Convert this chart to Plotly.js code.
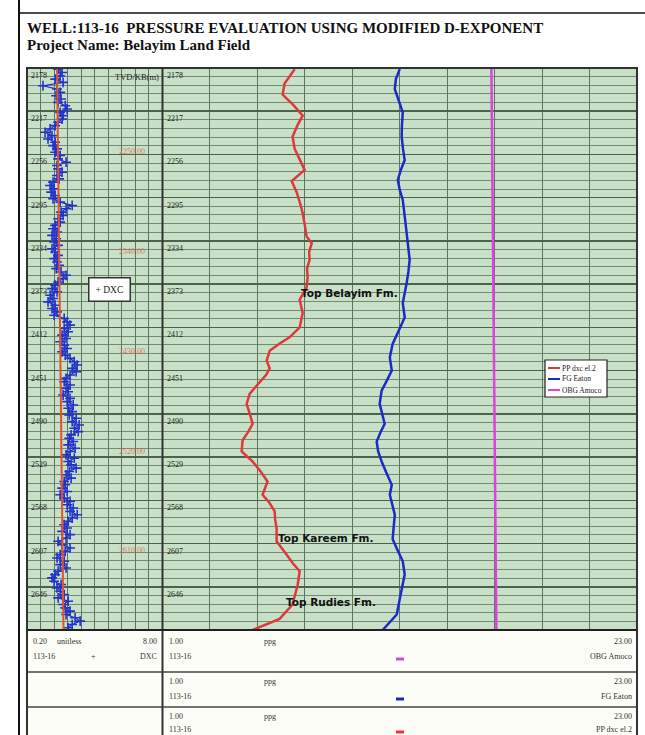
<!DOCTYPE html>
<html><head><meta charset="utf-8">
<script src="https://cdn.plot.ly/plotly-3.0.1.min.js"></script>
<style>html,body{margin:0;padding:0;background:#fff}#chart{width:645px;height:735px}</style>
</head><body><div id="chart"></div>
<script>
// ---- data ----
const depthTicks = [2178,2217,2256,2295,2334,2373,2412,2451,2490,2529,2568,2607,2646];
const dxcDepth = [2179,2182,2185,2188,2191,2194,2197,2200,2203,2206,2209,2212,2215,2218,2221,2224,2227,2230,2233,2236,2239,2242,2245,2248,2251,2254,2257,2260,2263,2266,2269,2272,2275,2278,2281,2284,2287,2290,2293,2296,2299,2302,2305,2308,2311,2314,2317,2320,2323,2326,2329,2332,2335,2338,2341,2344,2347,2350,2353,2356,2359,2362,2365,2368,2371,2374,2377,2380,2383,2386,2389,2392,2395,2398,2401,2404,2407,2410,2413,2416,2419,2422,2425,2428,2431,2434,2437,2440,2443,2446,2449,2452,2455,2458,2461,2464,2467,2470,2473,2476,2479,2482,2485,2488,2491,2494,2497,2500,2503,2506,2509,2512,2515,2518,2521,2524,2527,2530,2533,2536,2539,2542,2545,2548,2551,2554,2557,2560,2563,2566,2569,2572,2575,2578,2581,2584,2587,2590,2593,2596,2599,2602,2605,2608,2611,2614,2617,2620,2623,2626,2629,2632,2635,2638,2641,2644,2647,2650,2653,2656,2659,2662,2665,2668,2671,2674,2677,2680,2683];
const dxcValue = [1.99,2.22,2.11,1.82,2.28,1.12,1.93,2.11,1.88,2.16,1.99,2.40,2.51,2.11,2.28,2.22,1.99,1.82,1.53,1.24,1.64,1.41,1.82,1.70,1.93,1.82,2.11,1.99,2.45,1.93,
1.99,2.22,1.93,2.05,1.70,1.53,1.76,1.59,1.82,1.70,2.11,2.80,2.45,2.16,2.28,1.99,2.11,1.82,1.70,1.93,1.64,1.88,1.76,1.99,1.64,1.82,1.99,1.76,1.93,
2.05,1.88,2.16,2.45,2.28,1.99,1.82,1.64,1.93,1.53,1.70,1.41,1.82,1.64,1.93,1.76,2.34,2.51,2.68,2.34,2.57,2.22,2.45,2.11,2.34,2.51,2.22,2.40,2.68,2.92,3.09,2.80,3.03,2.68,2.45,
2.34,2.68,2.45,2.57,2.28,2.68,2.51,2.86,2.57,2.80,2.63,3.03,2.80,3.20,2.92,3.15,2.74,2.63,2.86,2.57,2.97,2.68,2.45,2.92,2.57,2.74,3.03,2.63,2.45,2.74,2.34,
2.40,2.22,2.51,2.11,2.34,2.68,2.51,2.86,2.68,3.09,2.80,2.57,2.34,2.51,2.22,2.68,2.45,1.99,2.22,2.68,2.40,2.11,1.93,2.34,2.11,2.45,1.99,1.82,1.64,
1.76,2.16,1.93,2.11,2.34,1.99,2.57,2.28,2.40,2.68,2.45,2.97,3.26,2.80,2.57];
const trendDepth = [2178, 2685];
const trendValue = [1.93, 2.30];
const trendLabels = ["2250.00","2340.00","2430.00","2520.00","2610.00"];
const trendLabelDepth = [2250, 2340, 2430, 2520, 2610];

const ppDepth = [2179,2192,2202,2211,2221,2230,2240,2251,2260,2270,2280,2290,2300,2309,2320,2330,2336,2344,2351,2359,2367,2376,2387,2399,2412,2421,2427,2433,2442,2449,2455,2460,2466,2472,2481,2490,2499,2507,2514,2524,2533,2542,2551,2563,2570,2578,2585,2593,2605,2617,2625,2632,2644,2653,2662,2675,2685];
const ppValue = [7.13,6.66,6.57,7.05,7.50,7.25,7.03,7.13,7.35,7.59,6.99,7.22,7.38,7.50,7.60,7.68,7.92,7.80,7.82,7.70,7.73,7.68,7.36,7.50,7.36,6.89,6.40,5.97,5.83,5.97,5.80,5.59,5.30,5.04,4.90,5.05,5.18,4.95,4.71,4.67,5.18,5.55,5.87,5.64,5.95,6.20,6.22,6.29,6.29,6.75,7.05,7.36,7.27,7.15,7.03,6.43,5.18];
const fgDepth = [2179,2188,2197,2208,2218,2230,2240,2251,2261,2270,2279,2288,2297,2315,2333,2351,2362,2372,2390,2403,2415,2427,2439,2451,2460,2469,2481,2490,2499,2507,2515,2524,2533,2544,2554,2563,2572,2581,2592,2603,2613,2623,2635,2646,2657,2671,2685];
const fgValue = [12.00,11.82,11.77,11.95,12.14,12.10,12.09,12.15,12.23,12.05,11.91,12.00,12.14,12.25,12.37,12.46,12.40,12.32,12.14,12.23,11.95,11.67,11.54,11.63,11.40,11.16,11.07,11.18,11.30,11.10,10.93,11.00,11.16,11.40,11.63,11.54,11.65,11.77,11.72,11.67,11.90,12.14,12.23,12.10,12.00,11.86,11.21];
const obgDepth = [2178, 2300, 2450, 2685];
const obgValue = [16.25, 16.30, 16.38, 16.48];

const formationNames = ["Top Belayim Fm.", "Top Kareem Fm.", "Top Rudies Fm."];
const formationDepth = [2381, 2602, 2660];
const formationX = [9.68, 8.56, 8.80];

const curveNames = ["PP dxc el.2", "FG Eaton", "OBG Amoco"];
const curveColors = ["#e0383a", "#1a2bc8", "#e040e0"];
const headerOrder = [2, 1, 0]; // header panels list OBG, FG, PP from top
const headerTextY = [[641, 656], [681, 696], [716, 729]];
const rowTops = [630, 672, 707];

// ---- layout helpers (pixel -> paper) ----
const W = 645, H = 735, ML = 27, MR = 8, MT = 68, MB = 105;
const PW = W - ML - MR, PH = H - MT - MB;
const px = x => (x - ML) / PW;
const py = y => (H - MB - y) / PH;
const split = px(162.5);

const serif = "Liberation Serif, Times New Roman, serif";
const gridCol = "#5d775d";
const minorCol = "#728b72";

const traces = [
  {x: dxcValue, y: dxcDepth, xaxis: "x", yaxis: "y", mode: "lines+markers", name: "DXC",
   line: {color: "#2233cc", width: 1.2},
   marker: {symbol: "cross-thin", size: 7, line: {color: "#2233cc", width: 1.6}}},
  {x: trendValue, y: trendDepth, xaxis: "x", yaxis: "y", mode: "lines", name: "trend",
   line: {color: "#e8502a", width: 2}},
  {x: ppValue, y: ppDepth, xaxis: "x2", yaxis: "y", mode: "lines", name: curveNames[0],
   line: {color: curveColors[0], width: 2.5}},
  {x: fgValue, y: fgDepth, xaxis: "x2", yaxis: "y", mode: "lines", name: curveNames[1],
   line: {color: curveColors[1], width: 2.5}},
  {x: obgValue, y: obgDepth, xaxis: "x2", yaxis: "y", mode: "lines", name: curveNames[2],
   line: {color: curveColors[2], width: 2.5}}
];

const annotations = [];
const shapes = [];
const txt = (text, x, y, anchor, size, color, extra) => Object.assign({
  xref: "paper", yref: "paper", x: px(x), y: py(y), xanchor: anchor, yanchor: "middle", showarrow: false,
  text: text, font: {family: serif, size: size || 8, color: color || "#333"}}, extra || {});

// Titles
annotations.push(txt("<b>WELL:113-16  PRESSURE EVALUATION USING MODIFIED D-EXPONENT</b>", 25, 28, "left", 15, "#111"));
annotations.push(txt("<b>Project Name: Belayim Land Field</b>", 25, 45, "left", 15, "#111"));

// depth labels in both tracks
depthTicks.forEach(d => {
  [29, 165].forEach(xx => {
    annotations.push({xref: "paper", yref: "y", x: px(xx), y: d, xanchor: "left", yanchor: "top", yshift: -1, showarrow: false,
      text: String(d), font: {family: serif, size: 8, color: "#222"}});
  });
});
annotations.push(txt("TVD/KB(m)", 161, 77, "right", 8.5, "#222"));

// trend labels
trendLabels.forEach((t, i) => {
  annotations.push({xref: "paper", yref: "y", x: px(132), y: trendLabelDepth[i], xanchor: "center", yanchor: "middle", yshift: -4,
    showarrow: false, text: t, font: {family: serif, size: 8, color: "rgba(225,90,70,0.8)"}});
});

// DXC legend box
annotations.push(txt("+ DXC", 109, 289, "center", 9.5, "#222", {bgcolor: "#ffffff", bordercolor: "#333", borderwidth: 1.5, borderpad: 6}));

// formation tops
formationNames.forEach((n, i) => {
  annotations.push({xref: "x2", yref: "y", x: formationX[i], y: formationDepth[i], xanchor: "center", yanchor: "middle",
    showarrow: false, text: "<b>" + n + "</b>", font: {family: "DejaVu Sans, sans-serif", size: 10.5, color: "#111"}});
});

// curve legend (right track)
shapes.push({type: "rect", xref: "paper", yref: "paper", x0: px(545), x1: px(607), y0: py(397), y1: py(360),
  fillcolor: "#ffffff", line: {color: "#222", width: 1.2}});
curveNames.forEach((n, i) => {
  const yy = 368 + i * 11;
  shapes.push({type: "line", xref: "paper", yref: "paper", x0: px(548), x1: px(560), y0: py(yy), y1: py(yy), line: {color: curveColors[i], width: 2}});
  annotations.push(txt(n, 560, yy, "left", 7.5, "#222"));
});

// header panels
shapes.push({type: "rect", xref: "paper", yref: "paper", x0: 0, x1: 1, y0: py(760), y1: 0, fillcolor: "#fdfdf8", line: {width: 0}, layer: "below"});
headerOrder.forEach((ci, i) => {
  const [y1, y2] = headerTextY[i];
  annotations.push(txt("1.00", 167, y1, "left"));
  annotations.push(txt("ppg", 262, y1, "left"));
  annotations.push(txt("23.00", 634, y1, "right"));
  annotations.push(txt("113-16", 167, y2, "left"));
  annotations.push(txt(curveNames[ci], 634, y2, "right"));
  shapes.push({type: "line", xref: "paper", yref: "paper", x0: px(396), x1: px(404), y0: py(y2 + 3), y1: py(y2 + 3), line: {color: curveColors[ci], width: 3}});
  if (i > 0) shapes.push({type: "line", xref: "paper", yref: "paper", x0: 0, x1: 1, y0: py(rowTops[i]), y1: py(rowTops[i]), line: {color: "#444", width: 1.5}});
});
// left header
[["0.20", 31, "left", 641], ["unitless", 55, "left", 641], ["8.00", 159, "right", 641],
 ["113-16", 31, "left", 656], ["+", 93, "center", 656], ["DXC", 159, "right", 656]].forEach(a => {
  annotations.push(txt(a[0], a[1], a[3], a[2]));
});

// frames
shapes.push({type: "rect", xref: "paper", yref: "paper", x0: 0, x1: 1, y0: py(760), y1: 1, line: {color: "#333", width: 2}});
shapes.push({type: "line", xref: "paper", yref: "paper", x0: split, x1: split, y0: py(760), y1: 1, line: {color: "#333", width: 2}});
shapes.push({type: "line", xref: "paper", yref: "paper", x0: 0, x1: 1, y0: 0, y1: 0, line: {color: "#222", width: 2}});
// page lines
shapes.push({type: "line", xref: "paper", yref: "paper", x0: px(19), x1: px(19), y0: py(740), y1: py(-5), line: {color: "#111", width: 2}});
shapes.push({type: "line", xref: "paper", yref: "paper", x0: px(19), x1: px(650), y0: py(13), y1: py(13), line: {color: "#111", width: 1.5}});

const layout = {
  width: W, height: H,
  margin: {l: ML, r: MR, t: MT, b: MB, pad: 0},
  paper_bgcolor: "#ffffff", plot_bgcolor: "#c9e0c8",
  showlegend: false,
  xaxis: {domain: [0, split], range: [0.2, 8.0], tick0: 0.2, dtick: 0.78, showgrid: true, gridcolor: gridCol, gridwidth: 1,
    showticklabels: false, ticks: "", zeroline: false, showline: false, fixedrange: true},
  xaxis2: {domain: [split, 1], range: [1, 23], tick0: 1, dtick: 2.2, showgrid: true, gridcolor: gridCol, gridwidth: 1,
    showticklabels: false, ticks: "", zeroline: false, showline: false, anchor: "y", fixedrange: true},
  yaxis: {range: [2685, 2178], tick0: 2178, dtick: 39, showgrid: true, gridcolor: "#4a644a", gridwidth: 1.5,
    showticklabels: false, ticks: "", zeroline: false, showline: false, fixedrange: true,
    minor: {tick0: 2178, dtick: 7.8, showgrid: true, gridcolor: minorCol, gridwidth: 1, ticks: ""}},
  annotations: annotations,
  shapes: shapes
};

Plotly.newPlot("chart", traces, layout, {staticPlot: true, displayModeBar: false});
</script></body></html>
